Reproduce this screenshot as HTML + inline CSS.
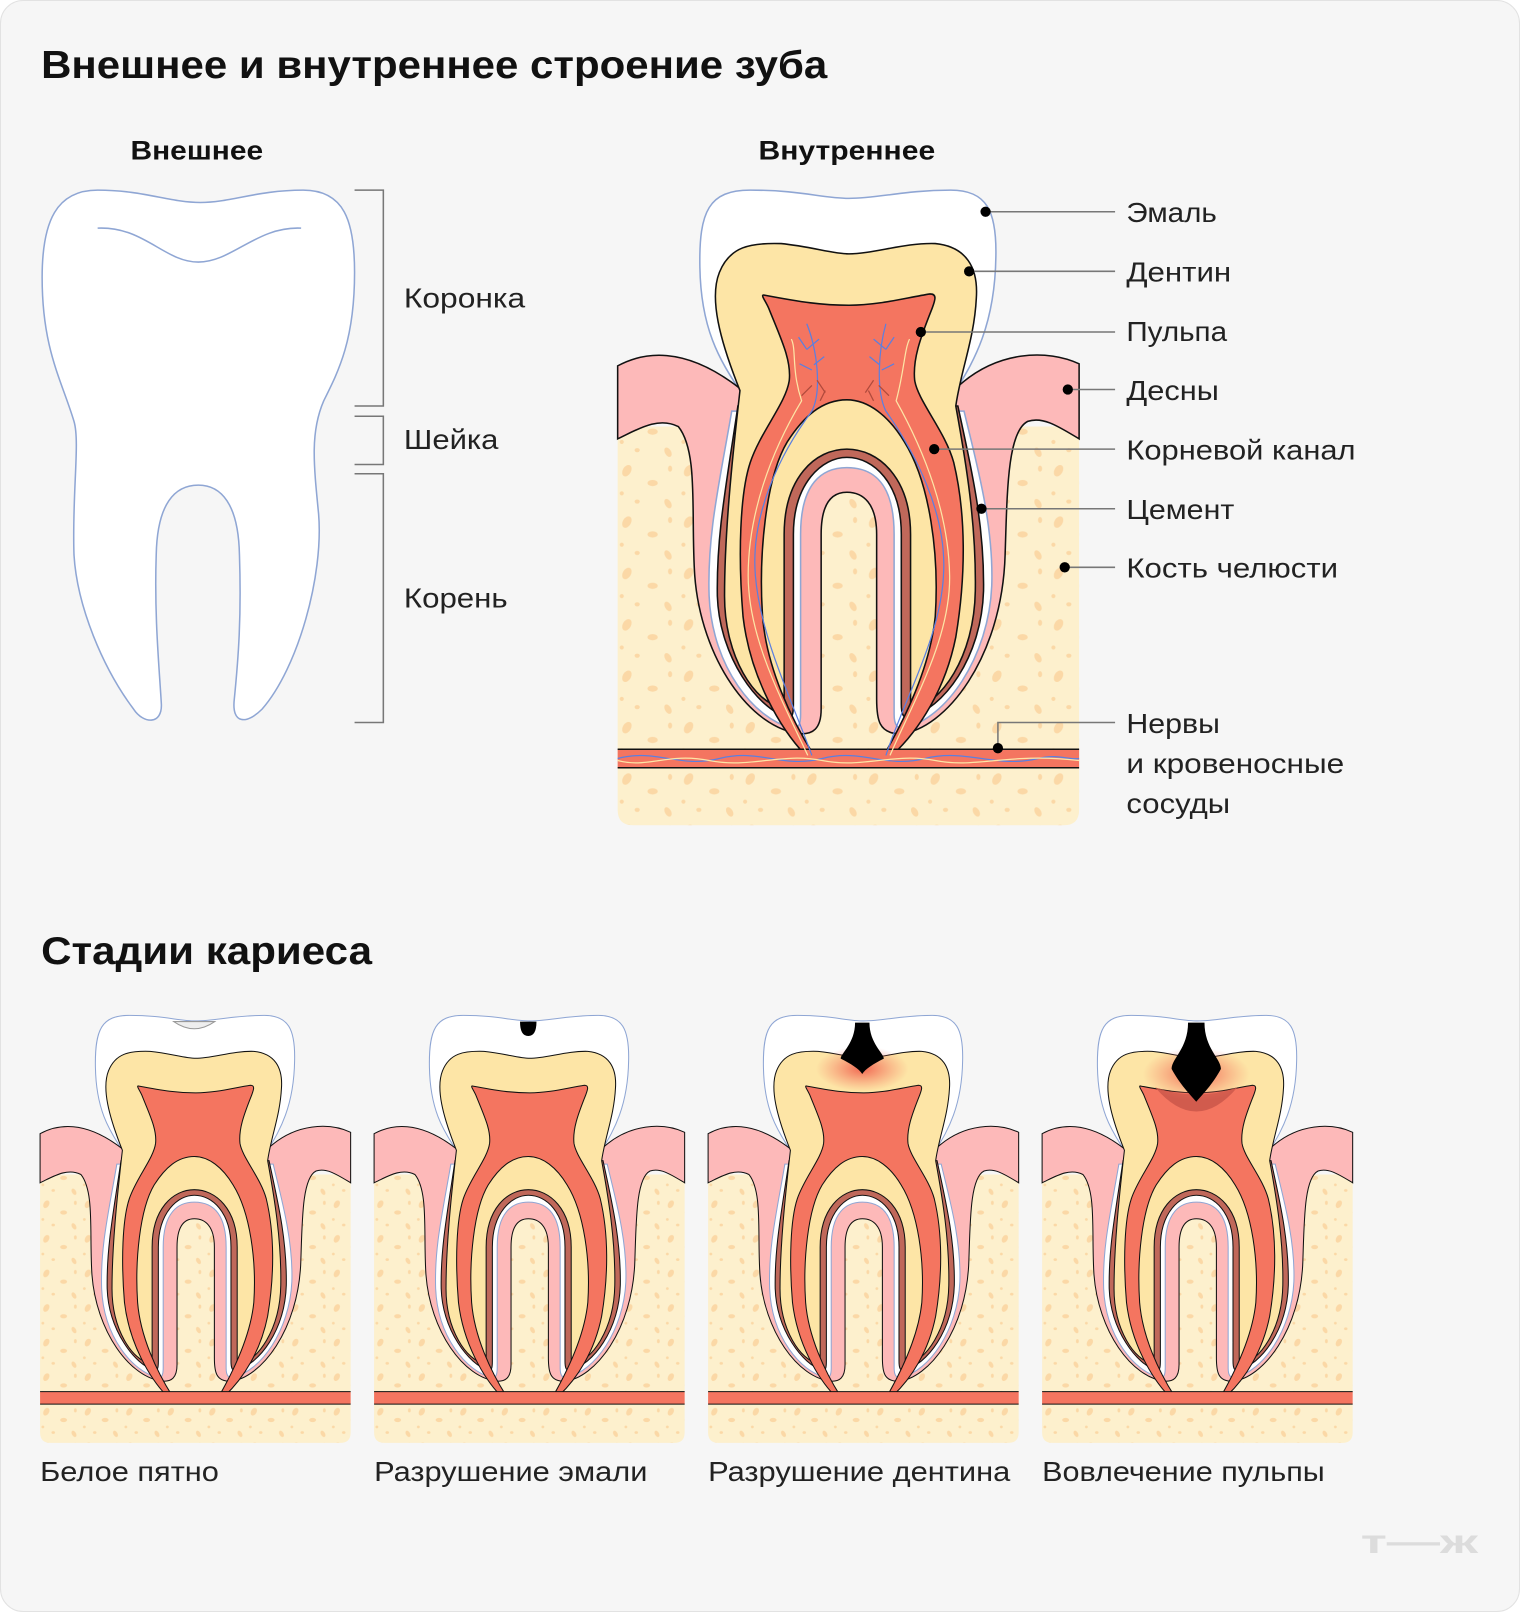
<!DOCTYPE html>
<html><head><meta charset="utf-8"><style>html,body{margin:0;padding:0;background:#fff}svg{display:block}</style></head><body>
<svg width="1520" height="1612" viewBox="0 0 1479 1568.5" xmlns="http://www.w3.org/2000/svg" font-family="Liberation Sans, DejaVu Sans, sans-serif">
<defs>
<pattern id="sp" width="60" height="50" patternUnits="userSpaceOnUse">
<rect width="60" height="50" fill="#fdf0cd"/>
<ellipse cx="10" cy="8" rx="4" ry="6" fill="#fbd8a6" transform="rotate(30 10 8)"/>
<ellipse cx="35" cy="20" rx="5" ry="3" fill="#fbd8a6"/>
<ellipse cx="50" cy="40" rx="3" ry="5" fill="#fbd8a6" transform="rotate(-30 50 40)"/>
<ellipse cx="20" cy="38" rx="2.5" ry="2" fill="#fbd8a6"/>
<ellipse cx="52" cy="6" rx="2" ry="3" fill="#fbd8a6"/>
<ellipse cx="5" cy="30" rx="2" ry="2" fill="#fbd8a6"/>
</pattern>
<radialGradient id="glow"><stop offset="0" stop-color="#f05a48" stop-opacity="0.9"/><stop offset="1" stop-color="#f47560" stop-opacity="0"/></radialGradient>
<g id="tooth">
<path d="M601,415 H1050 V788 Q1050,803 1035,803 H616 Q601,803 601,788 Z" fill="url(#sp)"/>
<path d="M720,380 C700,350 682,320 681,260 C680,205 690,185 730,185 C780,185 800,193 826,193 C855,193 880,185 925,185 C960,185 970,205 969,250 C968,320 945,355 930,380 Z" fill="#fff" stroke="#8fa6d4" stroke-width="1.5"/>
<path d="M601,356 C625,343 665,335 720,378 L930,378 C970,340 1020,340 1050,354 L1050,427 C1030,415 1015,405 1000,410 C980,420 980,480 978,540 C975,640 920,710 876,714 C855,714 853,700 853,680 L853,520 C853,490 840,479 824,479 C808,479 799,492 799,520 L799,690 C799,710 790,714 780,714 C730,710 682,640 676,560 C672,500 680,440 660,415 C640,405 620,418 601,427 Z" fill="#fdb9b9" stroke="#111" stroke-width="1.5"/>
<path d="M712,400 C700,470 688,520 690,580 C693,650 735,700 770,708 C777,710 779,705 779,695 L779,520 C779,470 800,455 824,455 C850,455 870,470 870,520 L870,695 C870,705 873,710 880,708 C920,700 962,640 965,570 C967,510 950,450 938,400 Z" fill="#fff" stroke="#8fa6d4" stroke-width="1.5"/>
<path d="M718,395 C707,470 697,520 698,580 C700,640 738,690 766,698 C771,699 772,695 772,685 L772,520 C772,470 800,445 824,445 C850,445 877,470 877,520 L877,685 C877,695 879,699 884,698 C918,690 955,640 957,575 C958,510 945,455 932,395 Z" fill="#c0685a" stroke="#111" stroke-width="1.5"/>
<path d="M720,380 C700,330 690,290 700,265 C710,240 730,236 760,237 C790,240 810,247 826,247 C850,247 880,236 910,237 C940,240 952,260 950,290 C948,330 935,360 930,395 C940,450 950,510 949,575 C948,640 915,685 888,690 C886,690 886,684 886,676 L886,520 C886,465 855,437 824,437 C793,437 763,465 763,520 L763,680 C763,688 761,689 760,688 C735,684 705,640 705,580 C705,520 712,450 720,380 Z" fill="#fde5a6" stroke="#111" stroke-width="1.5"/>
<path d="M743,287 C780,294 800,297 826,297 C855,297 880,290 905,286 C912,286 910,292 907,300 C895,330 888,350 890,370 C893,390 920,420 928,450 C940,500 940,560 930,620 C920,670 895,710 868,735 L860,735 C880,700 905,650 910,600 C914,540 905,470 880,430 C865,405 845,389 824,389 C800,389 782,405 766,430 C745,465 738,540 742,600 C746,650 770,700 792,735 L784,735 C760,710 730,660 723,600 C718,540 720,480 730,450 C740,420 765,392 768,370 C770,350 760,330 748,300 C745,293 740,287 743,287 Z" fill="#f47560" stroke="#111" stroke-width="1.5"/>
<rect x="601" y="729" width="449" height="18" fill="#f47560"/>
<line x1="601" y1="729" x2="1050" y2="729" stroke="#111" stroke-width="1.5"/>
<line x1="601" y1="747" x2="1050" y2="747" stroke="#111" stroke-width="1.5"/>
</g>
</defs>
<rect x="0.5" y="0.5" width="1478" height="1567.5" rx="22" fill="#f6f6f6" stroke="#e2e2e2"/>
<text x="40" y="76" font-size="38" font-weight="bold" fill="#111" textLength="765" lengthAdjust="spacingAndGlyphs">Внешнее и внутреннее строение зуба</text>
<text x="127" y="155" font-size="26" font-weight="bold" fill="#111" textLength="129" lengthAdjust="spacingAndGlyphs">Внешнее</text>
<text x="738" y="155" font-size="26" font-weight="bold" fill="#111" textLength="172" lengthAdjust="spacingAndGlyphs">Внутреннее</text>
<path d="M95,185 C140,185 165,197 195,197 C225,197 250,185 295,185 C335,185 345,215 345,265 C345,330 330,360 315,390 C302,420 305,450 310,500 C315,560 290,650 255,690 C240,705 225,705 228,680 C232,640 235,600 233,540 C232,490 215,472 193,472 C170,472 153,490 152,540 C150,600 155,650 157,685 C158,705 140,705 130,690 C100,650 75,590 72,540 C70,480 78,430 72,410 C60,370 41,340 41,270 C41,215 55,185 95,185 Z" fill="#fff" stroke="#8fa6d4" stroke-width="1.5"/>
<path d="M95,222 C140,220 160,255 193,255 C226,255 250,220 293,222" fill="none" stroke="#8fa6d4" stroke-width="1.5"/>
<g stroke="#777" stroke-width="1.5" fill="none">
<path d="M345,185 H373 V395 H345"/><path d="M345,405 H373 V452 H345"/><path d="M345,461 H373 V703 H345"/>
</g>
<g font-size="27" fill="#222">
<text x="393" y="299" textLength="118" lengthAdjust="spacingAndGlyphs">Коронка</text><text x="393" y="437" textLength="92" lengthAdjust="spacingAndGlyphs">Шейка</text><text x="393" y="591" textLength="101" lengthAdjust="spacingAndGlyphs">Корень</text>
</g>
<use href="#tooth"/>
<g fill="none" stroke-width="1.2">
<path d="M790,735 C770,680 740,620 735,560 C730,500 760,440 790,400 C800,380 795,340 785,315" stroke="#5b7fe0"/>
<path d="M862,735 C880,680 915,620 918,560 C922,500 890,440 862,400 C852,380 855,340 862,315" stroke="#5b7fe0"/>
<path d="M786,735 C760,680 728,620 728,560 C728,500 750,440 780,390 C770,360 775,340 770,330" stroke="#fde5a6"/>
<path d="M866,735 C890,680 925,620 924,560 C923,500 900,440 872,390 C880,360 880,340 885,330" stroke="#fde5a6"/>
<path d="M785,340 l-8,-12 M785,340 l12,-10 M790,360 l-12,-6 M792,355 l10,-8 M862,340 l8,-12 M862,340 l-12,-10 M858,360 l12,-6 M856,355 l-10,-8" stroke="#5b7fe0"/>
<path d="M790,375 l-10,10 M795,370 l8,12 M803,380 l-5,10 M855,375 l10,10 M850,370 l-8,12 M845,380 l5,10" stroke="#b04a3c"/>
<path d="M601,738 C640,728 660,748 700,738 C740,728 760,748 800,738 C840,728 860,748 900,738 C940,728 970,748 1010,738 C1030,733 1040,740 1050,738" stroke="#5b7fe0"/>
<path d="M601,740 C630,748 650,732 690,740 C730,748 760,732 800,740 C840,748 870,732 910,740 C950,748 980,732 1050,740" stroke="#fde5a6"/>
</g>
<g stroke="#777" stroke-width="1.5" fill="none">
<path d="M959,206 H1085"/><path d="M943,264 H1085"/><path d="M896,323 H1085"/><path d="M1039,379 H1085"/><path d="M909,437 H1085"/><path d="M955,495 H1085"/><path d="M1036,552 H1085"/><path d="M971,728 V703 H1085"/>
</g>
<g fill="#000"><circle cx="959" cy="206" r="5"/><circle cx="943" cy="264" r="5"/><circle cx="896" cy="323" r="5"/><circle cx="1039" cy="379" r="5"/><circle cx="909" cy="437" r="5"/><circle cx="955" cy="495" r="5"/><circle cx="1036" cy="552" r="5"/><circle cx="971" cy="728" r="5"/></g>
<g font-size="27" fill="#222">
<text x="1096" y="216" textLength="88" lengthAdjust="spacingAndGlyphs">Эмаль</text><text x="1096" y="274" textLength="102" lengthAdjust="spacingAndGlyphs">Дентин</text><text x="1096" y="332" textLength="98" lengthAdjust="spacingAndGlyphs">Пульпа</text><text x="1096" y="389" textLength="90" lengthAdjust="spacingAndGlyphs">Десны</text><text x="1096" y="447" textLength="223" lengthAdjust="spacingAndGlyphs">Корневой канал</text><text x="1096" y="505" textLength="105" lengthAdjust="spacingAndGlyphs">Цемент</text><text x="1096" y="562" textLength="206" lengthAdjust="spacingAndGlyphs">Кость челюсти</text>
<text x="1096" y="713" textLength="91" lengthAdjust="spacingAndGlyphs">Нервы</text><text x="1096" y="752" textLength="212" lengthAdjust="spacingAndGlyphs">и кровеносные</text><text x="1096" y="791" textLength="101" lengthAdjust="spacingAndGlyphs">сосуды</text>
</g>
<text x="40" y="938" font-size="38" font-weight="bold" fill="#111" textLength="322" lengthAdjust="spacingAndGlyphs">Стадии кариеса</text>
<use href="#tooth" transform="translate(39,988) scale(0.673) translate(-601,-185)"/>
<use href="#tooth" transform="translate(364,988) scale(0.673) translate(-601,-185)"/>
<use href="#tooth" transform="translate(689,988) scale(0.673) translate(-601,-185)"/>
<use href="#tooth" transform="translate(1014,988) scale(0.673) translate(-601,-185)"/>
<path d="M169,994 Q189,1008 209,994 Z" fill="#eee" stroke="#999" stroke-width="1"/>
<path d="M506,994 Q506,1008 514,1008 Q522,1008 522,994 Z" fill="#000"/>
<ellipse cx="839" cy="1040" rx="45" ry="22" fill="url(#glow)"/>
<path d="M832,995 H846 C846,1015 860,1025 860,1030 C850,1035 842,1040 839,1045 C836,1040 828,1035 818,1030 C818,1025 832,1015 832,995 Z" fill="#000"/>
<path d="M1124,1058 Q1164,1105 1204,1058 Q1164,1072 1124,1058 Z" fill="#c85548" opacity="0.8"/>
<ellipse cx="1164" cy="1045" rx="52" ry="26" fill="url(#glow)"/>
<path d="M1156,995 H1172 C1172,1020 1188,1030 1188,1040 C1180,1055 1170,1065 1164,1072 C1158,1065 1148,1055 1140,1040 C1140,1030 1156,1020 1156,995 Z" fill="#000"/>
<g font-size="27" fill="#222">
<text x="39" y="1441" textLength="174" lengthAdjust="spacingAndGlyphs">Белое пятно</text><text x="364" y="1441" textLength="266" lengthAdjust="spacingAndGlyphs">Разрушение эмали</text><text x="689" y="1441" textLength="294" lengthAdjust="spacingAndGlyphs">Разрушение дентина</text><text x="1014" y="1441" textLength="275" lengthAdjust="spacingAndGlyphs">Вовлечение пульпы</text>
</g>
<text x="1324" y="1511" font-size="32" font-weight="900" fill="#dcdcdc" textLength="114" lengthAdjust="spacingAndGlyphs">т—ж</text>
</svg>
</body></html>
